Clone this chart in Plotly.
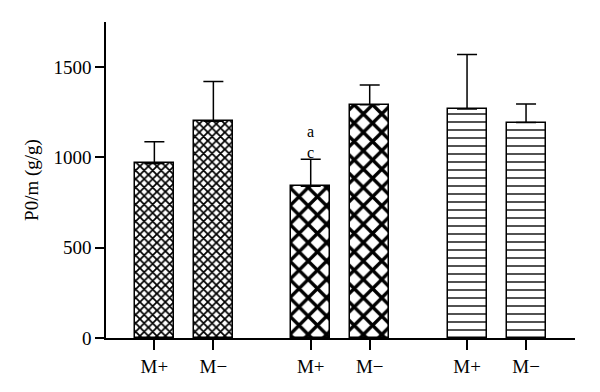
import plotly.graph_objects as go

# ---- data ----
tick_labels = ["M+", "M\u2212", "M+", "M\u2212", "M+", "M\u2212"]
x_pos = [1.0, 2.0, 3.65, 4.65, 6.3, 7.3]
values = [967, 1200, 840, 1292, 1268, 1193]
err_up = [120, 220, 150, 109, 302, 103]
sig_labels = ["", "", "a<br>c", "", "", ""]

patterns = [
    dict(shape="x", size=6, solidity=0.5),
    dict(shape="x", size=6, solidity=0.5),
    dict(shape="x", size=13, solidity=0.45),
    dict(shape="x", size=13, solidity=0.45),
    dict(shape="-", size=8, solidity=0.17),
    dict(shape="-", size=8, solidity=0.17),
]

FONT = "Liberation Serif"
FS = 19
OFF = 8  # default page body margin of the browser

fig = go.Figure()
for i in range(len(values)):
    p = patterns[i]
    fig.add_trace(go.Bar(
        x=[x_pos[i]], y=[values[i]], width=0.66,
        marker=dict(color="white",
                    line=dict(color="black", width=1.5),
                    pattern=dict(shape=p["shape"], size=p["size"], solidity=p["solidity"],
                                 fgcolor="black", bgcolor="white", fillmode="replace")),
        error_y=dict(type="data", symmetric=False, array=[err_up[i]], arrayminus=[0],
                     color="black", thickness=1.5, width=10),
        showlegend=False,
    ))

for i, s in enumerate(sig_labels):
    if s:
        fig.add_annotation(x=x_pos[i], y=values[i] + err_up[i], text=s,
                           showarrow=False, yanchor="bottom", yshift=-4,
                           font=dict(family=FONT, size=16, color="black"))

fig.update_layout(
    width=600 - OFF, height=392 - OFF,
    margin=dict(l=106 - OFF, r=25, t=22 - OFF, b=54, autoexpand=False),
    plot_bgcolor="white", paper_bgcolor="white",
    font=dict(family=FONT, size=FS, color="black"),
    bargap=0,
)
fig.update_xaxes(range=[0.18, 8.13], tickvals=x_pos, ticktext=tick_labels,
                 showline=True, linecolor="black", linewidth=1.5,
                 ticks="outside", ticklen=10, tickwidth=1.5, tickcolor="black",
                 showgrid=False, zeroline=False, tickfont=dict(size=FS),
                 automargin=False)
fig.update_yaxes(range=[0, 1750], tickvals=[0, 500, 1000, 1500],
                 showline=True, linecolor="black", linewidth=1.5,
                 ticks="outside", ticklen=9, tickwidth=1.5, tickcolor="black",
                 showgrid=False, zeroline=False, tickfont=dict(size=FS),
                 title=dict(text="P0/m (g/g)", font=dict(size=FS), standoff=10),
                 automargin=False)

fig.write_html("out.html")
